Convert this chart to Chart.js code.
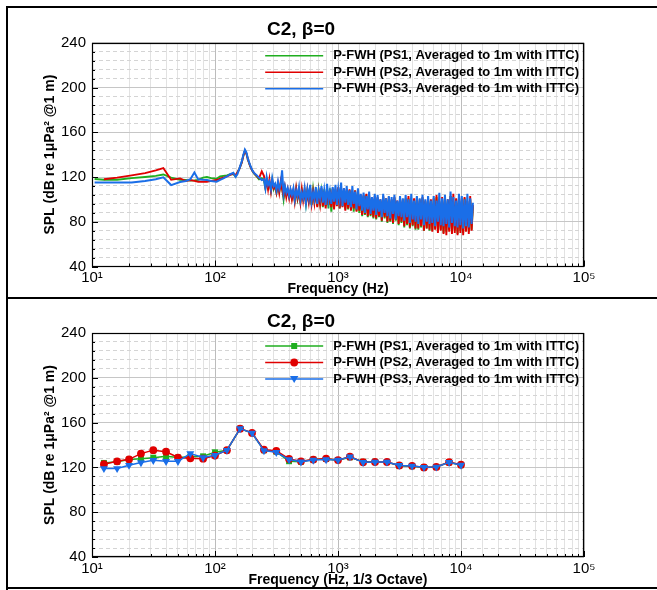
<!DOCTYPE html>
<html><head><meta charset="utf-8">
<script src="https://cdn.jsdelivr.net/npm/chart.js@4.4.1/dist/chart.umd.min.js"></script>
<style>
html,body{margin:0;padding:0;background:#fff;}
#wrap{position:relative;width:657px;height:590px;overflow:hidden;background:#fff;}
canvas{position:absolute;left:0;}
#c1{top:0;width:657px;height:298px;}
#c2{top:298px;width:657px;height:292px;}
.ln{position:absolute;background:#000;}
</style></head><body>
<div id="wrap">
<canvas id="c1" width="657" height="298"></canvas>
<canvas id="c2" width="657" height="292"></canvas>
<div class="ln" style="left:6px;top:6px;width:651px;height:2px"></div>
<div class="ln" style="left:6px;top:6px;width:2px;height:584px"></div>
<div class="ln" style="left:6px;top:297px;width:651px;height:2px"></div>
<div class="ln" style="left:6px;top:587px;width:651px;height:2px"></div>
</div>
<script>
// ---------------- DATA ----------------
const seriesLabels = [
  'P-FWH (PS1, Averaged to 1m with ITTC)',
  'P-FWH (PS2, Averaged to 1m with ITTC)',
  'P-FWH (PS3, Averaged to 1m with ITTC)'
];
const chartTitle = 'C2, \u03B2=0';
const yTitle = 'SPL (dB re 1\u03BCPa\u00B2 @1 m)';
const xTitleTop = 'Frequency (Hz)';
const xTitleBottom = 'Frequency (Hz, 1/3 Octave)';

// Top chart: narrow-band spectrum (low-frequency part)
const topLowFreq = [10.5, 12.5, 16, 21, 27, 33, 38, 44, 52, 58, 63, 68, 73, 80, 86, 93, 103, 110, 117, 125, 133, 141, 147, 152, 158, 165, 170, 175, 180, 186, 193, 200, 208, 218, 228, 240];
const ps1Low = [118.2, 117.5, 117.5, 119, 120, 121, 122.3, 119.5, 117.5, 117.3, 116.8, 117, 117.5, 119.5, 120, 119, 118.5, 120.5, 121, 121.5, 122.5, 122.6, 120.5, 124, 127.5, 133, 139, 143.5, 141, 135, 130, 126, 123, 120.5, 118, 119];
const ps2Low = [null, 118, 119.5, 121.5, 123.5, 126, 128, 117.5, 118.8, 116.4, 117.3, 116.5, 115.8, 115.8, 115.8, 116.5, 117.3, 118.5, 119.5, 120.5, 122, 123, 121.5, 124, 127.5, 133, 139, 143.5, 141, 135, 130, 126, 123.5, 121, 119, 125];
const ps3Low = [115.2, 115.2, 115, 115, 116.5, 118, 119.7, 112.8, 115.5, 116.5, 118, 124, 117.9, 117.5, 117.3, 116.5, 115.8, 117.5, 118.8, 120.5, 122.5, 123.8, 120.2, 122.5, 127.7, 134, 140, 144.5, 142, 135.5, 130.6, 126.5, 123.5, 121.7, 119.5, 117.3];

// Top chart: noisy broadband part
const topBandFreq = [
  250, 257, 263, 270, 277, 285, 292, 300, 308, 316,
  325, 333, 342, 351, 361, 370, 380, 390, 401, 411,
  422, 434, 445, 457, 469, 482, 495, 508, 521, 535,
  549, 564, 579, 594, 610, 627, 643, 660, 678, 696,
  715, 734, 753, 773, 794, 815, 837, 859, 882, 905,
  929, 954, 980, 1006, 1032, 1060, 1088, 1117, 1147, 1177,
  1209, 1241, 1274, 1308, 1342, 1378, 1415, 1453, 1491, 1531,
  1572, 1614, 1657, 1701, 1746, 1792, 1840, 1889, 1939, 1991,
  2044, 2098, 2154, 2211, 2270, 2331, 2393, 2456, 2522, 2589,
  2658, 2728, 2801, 2876, 2952, 3031, 3111, 3194, 3279, 3367,
  3456, 3548, 3643, 3740, 3839, 3941, 4046, 4154, 4265, 4378,
  4495, 4614, 4737, 4863, 4993, 5126, 5262, 5402, 5546, 5693,
  5845, 6000, 6160, 6324, 6492, 6665, 6842, 7024, 7211, 7403,
  7600, 7802, 8010, 8223, 8442, 8666, 8897, 9134, 9377, 9626,
  9882, 10145, 10415, 10692, 10977, 11269, 11569, 11877, 12193, 12500
];
const ps1Band = [
  117, 110, 118, 111, 115, 108, 117, 109, 112, 106,
  113, 107, 114, 110, 100, 110, 104, 108, 102, 107,
  101, 107, 99, 109, 100, 106, 98, 108, 101, 107,
  96, 108, 99, 107, 95, 109, 98, 106, 94, 108,
  97, 107, 93, 109, 94, 106, 92, 110, 89, 109,
  93, 107, 95, 110, 92, 108, 94, 109, 91, 107,
  91, 108, 92, 106, 89, 108, 90, 105, 88, 103,
  85, 103, 86, 104, 84, 101, 85, 102, 83, 100,
  82, 101, 84, 99, 80, 102, 83, 100, 79, 101,
  80, 99, 78, 101, 81, 98, 77, 100, 79, 99,
  75, 100, 77, 101, 74, 98, 76, 100, 73, 101,
  73, 99, 75, 101, 72, 98, 74, 100, 72, 99,
  72, 100, 74, 102, 71, 98, 73, 100, 70, 101,
  71, 99, 73, 103, 70, 98, 72, 100, 69, 101,
  72, 99, 70, 101, 73, 98, 71, 100, 73, 94
];
const ps2Band = [
  121, 111, 117, 109, 118, 107, 116, 110, 113, 106,
  114, 106, 116, 109, 103, 111, 102, 109, 101, 108,
  100, 108, 98, 110, 101, 107, 97, 109, 99, 108,
  95, 108, 98, 110, 96, 107, 97, 109, 93, 107,
  96, 110, 94, 107, 92, 109, 95, 108, 93, 110,
  91, 109, 94, 111, 92, 108, 93, 110, 90, 109,
  92, 109, 90, 107, 92, 108, 89, 106, 90, 104,
  86, 104, 87, 105, 85, 103, 86, 102, 84, 103,
  83, 102, 85, 100, 81, 103, 84, 101, 80, 102,
  81, 100, 79, 102, 82, 99, 78, 101, 80, 100,
  76, 101, 78, 103, 75, 99, 77, 101, 74, 102,
  74, 100, 76, 102, 72, 99, 74, 101, 73, 100,
  71, 101, 73, 104, 70, 99, 72, 102, 69, 101,
  68, 100, 71, 103, 69, 105, 70, 101, 68, 102,
  70, 101, 68, 102, 71, 99, 69, 103, 72, 95
];
const ps3Band = [
  118, 110, 120, 113, 116, 109, 119, 112, 114, 108,
  116, 109, 113, 126, 105, 112, 106, 110, 103, 109,
  104, 110, 100, 108, 103, 111, 99, 106, 101, 110,
  97, 109, 101, 113, 98, 106, 100, 111, 96, 108,
  101, 112, 97, 108, 95, 114, 99, 107, 96, 111,
  98, 113, 95, 109, 100, 115, 94, 110, 97, 112,
  95, 108, 93, 112, 96, 107, 91, 110, 94, 105,
  90, 106, 88, 103, 91, 107, 87, 102, 90, 105,
  86, 104, 89, 100, 84, 105, 88, 101, 85, 103,
  83, 102, 87, 104, 82, 99, 85, 103, 84, 101,
  81, 104, 84, 100, 79, 105, 82, 99, 80, 103,
  78, 101, 82, 104, 77, 100, 80, 103, 78, 99,
  79, 103, 76, 99, 80, 106, 77, 101, 76, 104,
  78, 100, 75, 107, 79, 102, 76, 99, 75, 105,
  77, 103, 74, 100, 76, 105, 75, 101, 78, 97
];

// Bottom chart: 1/3 octave bands
const octaveFreq = [12.5, 16, 20, 25, 31.5, 40, 50, 63, 80, 100, 125, 160, 200, 250, 315, 400, 500, 630, 800, 1000, 1250, 1600, 2000, 2500, 3150, 4000, 5000, 6300, 8000, 10000];
const ps1Oct = [124, 125, 127, 127.8, 128.7, 129.9, 128.8, 129.5, 129.9, 133.5, 135.3, 154.6, 150.7, 135.3, 134, 125.5, 125, 127, 127.5, 126.5, 129, 125, 125, 124.8, 121.5, 121, 120, 120.4, 124.5, 122];
const ps2Oct = [122.8, 125.4, 127.2, 132.3, 135.4, 134, 128.8, 128.1, 127.8, 130.6, 135.3, 154.6, 150.8, 135.8, 134.8, 127.5, 125.4, 127, 127.9, 126.5, 129.6, 124.6, 124.8, 124.8, 121.8, 121.4, 120, 120.4, 124.7, 122.4];
const ps3Oct = [119, 119, 121.9, 124.3, 126.3, 125.4, 125.4, 132.3, 128.8, 130.8, 135.3, 154.6, 150.7, 135, 133.5, 127, 125, 126.5, 127, 126.5, 129.5, 124.5, 124.8, 124.8, 121.8, 121.3, 120.2, 120.4, 124.5, 122];

const yMin = 40, yMax = 240, yMajor = 40, yMinor = 8;
const xMin = 10, xMax = 100000;

// ---------------- STYLE ----------------
const FONT = "'Liberation Sans', Arial, Helvetica, sans-serif";
const GREEN = '#1fae1f', RED = '#e00000', BLUE = '#1a6ee8';
const SUP = {'0':'\u2070','1':'\u00B9','2':'\u00B2','3':'\u00B3','4':'\u2074','5':'\u2075'};

function isPow10(v){ const l = Math.log10(v); return Math.abs(l - Math.round(l)) < 1e-6; }
function isYMajor(v){ return Math.abs(v % yMajor) < 1e-6; }

function xScale(title, tickPad, height, titlePadBottom) {
  return {
    type: 'logarithmic', min: xMin, max: xMax,
    afterFit(s){ s.height = height; },
    ticks: {
      autoSkip: false, maxRotation: 0, minRotation: 0, padding: tickPad, color: '#000',
      font: {family: FONT, size: 15},
      callback(v){ return isPow10(v) ? '10' + SUP[String(Math.round(Math.log10(v)))] : ''; }
    },
    grid: {
      drawTicks: false, lineWidth: 1,
      color: c => (c.tick && isPow10(c.tick.value)) ? '#bcbcbc' : '#e2e2e2'
    },
    border: { display: false },
    title: { display: true, text: title, color: '#000', font: {family: FONT, size: 14, weight: 'bold'}, padding: {top: 0, bottom: titlePadBottom} }
  };
}
function yScale() {
  return {
    type: 'linear', min: yMin, max: yMax,
    afterFit(s){ s.width = 74; },
    ticks: {
      stepSize: yMinor, maxTicksLimit: 100, autoSkip: false, padding: 6, color: '#000',
      font: {family: FONT, size: 15},
      callback(v){ return isYMajor(v) ? String(v) : ''; }
    },
    grid: {
      drawTicks: false, lineWidth: 1,
      color: c => (c.tick && isYMajor(c.tick.value)) ? '#c6c6c6' : '#d4d4d4'
    },
    border: { display: false, dash: c => (c.tick && isYMajor(c.tick.value)) ? [] : [4, 3] },
    title: { display: true, text: yTitle, color: '#000', font: {family: FONT, size: 14, weight: 'bold'}, padding: {top: 23.6, bottom: 0} }
  };
}

// plot frame with inward tick marks
const framePlugin = {
  id: 'frame',
  afterDraw(chart) {
    const {ctx, chartArea: a, scales} = chart;
    ctx.save();
    ctx.strokeStyle = '#000';
    ctx.lineWidth = 1;
    ctx.beginPath();
    scales.x.ticks.forEach(t => {
      const px = Math.round(scales.x.getPixelForValue(t.value)) + 0.5;
      const len = isPow10(t.value) ? 6 : 3;
      ctx.moveTo(px, a.bottom); ctx.lineTo(px, a.bottom - len);
    });
    scales.y.ticks.forEach(t => {
      const py = Math.round(scales.y.getPixelForValue(t.value)) + 0.5;
      const len = isYMajor(t.value) ? 6 : 3;
      ctx.moveTo(a.left, py); ctx.lineTo(a.left + len, py);
    });
    ctx.stroke();
    ctx.lineWidth = 1.2;
    ctx.strokeRect(Math.round(a.left) + 0.5, Math.round(a.top) + 0.5, Math.round(a.width) - 1, Math.round(a.height) - 1);
    ctx.restore();
  }
};

function drawMarker(ctx, style, x, y, color) {
  ctx.fillStyle = color;
  ctx.beginPath();
  if (style === 'rect') { ctx.rect(x - 3, y - 3, 6, 6); }
  else if (style === 'circle') { ctx.arc(x, y, 3.9, 0, Math.PI * 2); }
  else if (style === 'triangle') { ctx.moveTo(x - 4.2, y - 3); ctx.lineTo(x + 4.2, y - 3); ctx.lineTo(x, y + 4); ctx.closePath(); }
  ctx.fill();
}

// legend drawn inside the plot area, top right
const legendPlugin = {
  id: 'insideLegend',
  afterDatasetsDraw(chart, args, opts) {
    const {ctx, chartArea: a} = chart;
    const ds = chart.data.datasets;
    ctx.save();
    ctx.font = 'bold 13px ' + FONT;
    ctx.textBaseline = 'middle';
    ctx.textAlign = 'left';
    const w = Math.max(...ds.map(d => ctx.measureText(d.label).width));
    const textX = a.right - 5 - w;
    const lineEnd = textX - 10, lineStart = lineEnd - 58;
    ds.forEach((d, k) => {
      const y = a.top + 13 + k * 16.5;
      ctx.strokeStyle = d.borderColor; ctx.lineWidth = 1.6;
      ctx.beginPath(); ctx.moveTo(lineStart, y); ctx.lineTo(lineEnd, y); ctx.stroke();
      if (opts.markers) drawMarker(ctx, d.pointStyle, (lineStart + lineEnd) / 2, y, d.borderColor);
      ctx.fillStyle = '#000';
      ctx.fillText(d.label, textX, y);
    });
    ctx.restore();
  }
};

const toXY = (fs, vs) => fs.map((f, i) => ({x: f, y: vs[i]}));

function baseOptions(padTop, titlePad, xTitle, xTickPad, xHeight, xTitlePadBottom, markers) {
  return {
    responsive: false, animation: false, devicePixelRatio: 1,
    layout: { padding: {left: 18, right: 73, top: padTop, bottom: 0} },
    elements: { line: { tension: 0 } },
    plugins: {
      legend: { display: false },
      tooltip: { enabled: false },
      title: { display: true, text: chartTitle, color: '#000', font: {family: FONT, size: 19, weight: 'bold'}, padding: titlePad },
      insideLegend: { markers: markers }
    },
    scales: { x: xScale(xTitle, xTickPad, xHeight, xTitlePadBottom), y: yScale() }
  };
}

// ---------------- TOP CHART ----------------
new Chart(document.getElementById('c1'), {
  type: 'line',
  data: {
    datasets: [
      { label: seriesLabels[0], data: toXY(topLowFreq.concat(topBandFreq), ps1Low.concat(ps1Band)), borderColor: GREEN, borderWidth: 1.9, pointRadius: 0, order: 2 },
      { label: seriesLabels[1], data: toXY(topLowFreq.concat(topBandFreq), ps2Low.concat(ps2Band)), borderColor: RED, borderWidth: 1.9, pointRadius: 0, order: 1 },
      { label: seriesLabels[2], data: toXY(topLowFreq.concat(topBandFreq), ps3Low.concat(ps3Band)), borderColor: BLUE, borderWidth: 2, pointRadius: 0, order: 0 }
    ]
  },
  options: baseOptions(8, {top: 10, bottom: 2}, xTitleTop, 2, 31.5, 0.6, false),
  plugins: [framePlugin, legendPlugin]
});

// ---------------- BOTTOM CHART ----------------
new Chart(document.getElementById('c2'), {
  type: 'line',
  data: {
    datasets: [
      { label: seriesLabels[0], data: toXY(octaveFreq, ps1Oct), borderColor: GREEN, backgroundColor: GREEN, borderWidth: 1.5, pointStyle: 'rect', pointRadius: 4.2, pointBorderWidth: 0, order: 2 },
      { label: seriesLabels[1], data: toXY(octaveFreq, ps2Oct), borderColor: RED, backgroundColor: RED, borderWidth: 1.5, pointStyle: 'circle', pointRadius: 3.9, pointBorderWidth: 0, order: 1 },
      { label: seriesLabels[2], data: toXY(octaveFreq, ps3Oct), borderColor: BLUE, backgroundColor: BLUE, borderWidth: 1.5, pointStyle: 'triangle', pointRotation: 180, pointRadius: 4.6, pointBorderWidth: 0, order: 0 }
    ]
  },
  options: baseOptions(2, {top: 10, bottom: 0.2}, xTitleBottom, 2.5, 33, 1.6, true),
  plugins: [framePlugin, legendPlugin]
});
</script>
</body></html>
